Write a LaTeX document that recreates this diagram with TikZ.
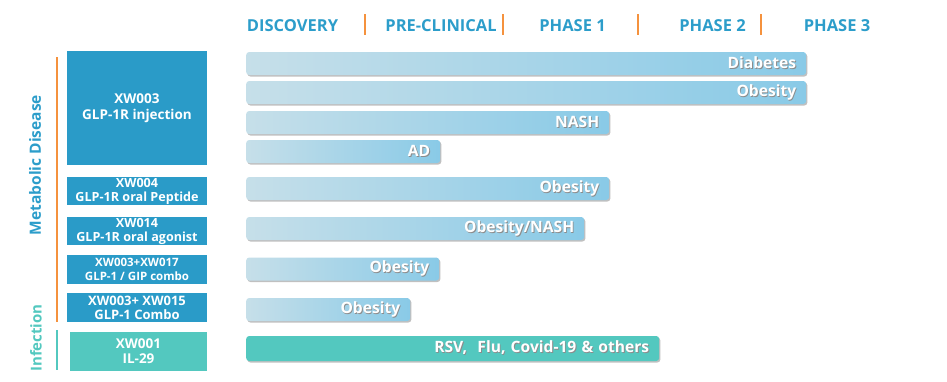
\documentclass[tikz,border=0pt]{standalone}
\usepackage{fontspec}
\setmainfont{Open Sans}
\usetikzlibrary{positioning, shadows}
\definecolor{drug}{HTML}{2A9BC8}
\definecolor{inf}{HTML}{53C8BF}
\definecolor{ttl}{HTML}{2C9DCA}
\definecolor{tick}{HTML}{F5923E}
\definecolor{barL}{HTML}{C6DFE9}
\definecolor{barR}{HTML}{89CAE7}
\newcommand\shtext[1]{\leavevmode\rlap{\kern0.9pt\raisebox{-0.9pt}{\textcolor{black!45}{#1}}}#1}

\begin{document}
\begin{tikzpicture}[x=1pt, y=-1pt, font=\bfseries,
    phase/.style={text=ttl, font=\fontsize{16.5}{17}\selectfont\bfseries},
    drugbox/.style={fill=drug, text=white, align=center, inner sep=0pt, minimum width=140, font=\fontsize{12.6}{14}\selectfont\bfseries},
    bar/.style={rounded corners=3pt, left color=barL, right color=barR, text=white, align=right, inner sep=0pt, anchor=west, minimum height=23,
      drop shadow={shadow xshift=1.2pt, shadow yshift=-1.5pt, fill=black!55, opacity=0.45}, font=\fontsize{15.6}{15.6}\selectfont\bfseries},
    sep/.style={tick, line width=2pt}]
  \useasboundingbox (0,0) rectangle (947,381);

  % Stage headings and separators.
  \node[phase] (disc) at (292.5,26) {DISCOVERY};
  \node[phase] (pre) at (441,26) {PRE-CLINICAL};
  \node[phase] (ph1) at (572.5,26) {PHASE 1};
  \node[phase] (ph2) at (712.5,26) {PHASE 2};
  \node[phase] (ph3) at (837,26) {PHASE 3};
  \foreach \x in {365, 503, 638, 761}
    \draw[sep] (\x,14) -- (\x,35);

  % Therapeutic areas.
  \draw[tick, line width=2pt] (57,57) -- (57,322);
  \draw[inf, line width=2pt] (57,330) -- (57,370);
  \node[rotate=90, text=ttl, font=\fontsize{15.5}{15.5}\selectfont\bfseries] (meta) at (35,165) {Metabolic Disease};
  \node[rotate=90, text=inf, font=\fontsize{15}{15}\selectfont\bfseries] (infe) at (36,338) {Infection};

  % Candidates.
  \node[drugbox, minimum height=114, font=\fontsize{13.5}{16}\selectfont\bfseries] (xw003) at (137,108) {XW003\\GLP-1R injection};
  \node[drugbox, minimum height=28] (xw004) at (137,191) {XW004\\GLP-1R oral Peptide};
  \node[drugbox, minimum height=28] (xw014) at (137,231) {XW014\\GLP-1R oral agonist};
  \node[drugbox, minimum height=29, font=\fontsize{11.5}{14}\selectfont\bfseries] (xw017) at (137,269.5) {XW003+XW017\\GLP-1 / GIP combo};
  \node[drugbox, minimum height=29, font=\fontsize{13}{14}\selectfont\bfseries] (xw015) at (137,307.5) {XW003+ XW015\\GLP-1 Combo};
  \node[drugbox, fill=inf, minimum width=137, minimum height=39, font=\fontsize{13.5}{15}\selectfont\bfseries] (xw001) at (138.5,351.5) {XW001\\IL-29};

  % Indications (bars).
  \foreach \i/\y/\w/\txt in {1/63.5/560/Diabetes, 2/92.5/560/Obesity, 3/122.5/363/NASH, 4/151.5/194/AD,
      5/188.5/363/Obesity, 6/228.5/338/Obesity\slash NASH, 7/269/193/Obesity, 8/309.5/164/Obesity}
    \node[bar, minimum width=\w, text width=\w-20] (bar\i) at (246,\y) {\shtext{\txt}};
  \node[bar, left color=inf, right color=inf, minimum width=413, text width=393, minimum height=25] (bar9) at (246,348.5) {\shtext{RSV,\ \ Flu, Covid-19 \& others}};
\end{tikzpicture}
\end{document}
